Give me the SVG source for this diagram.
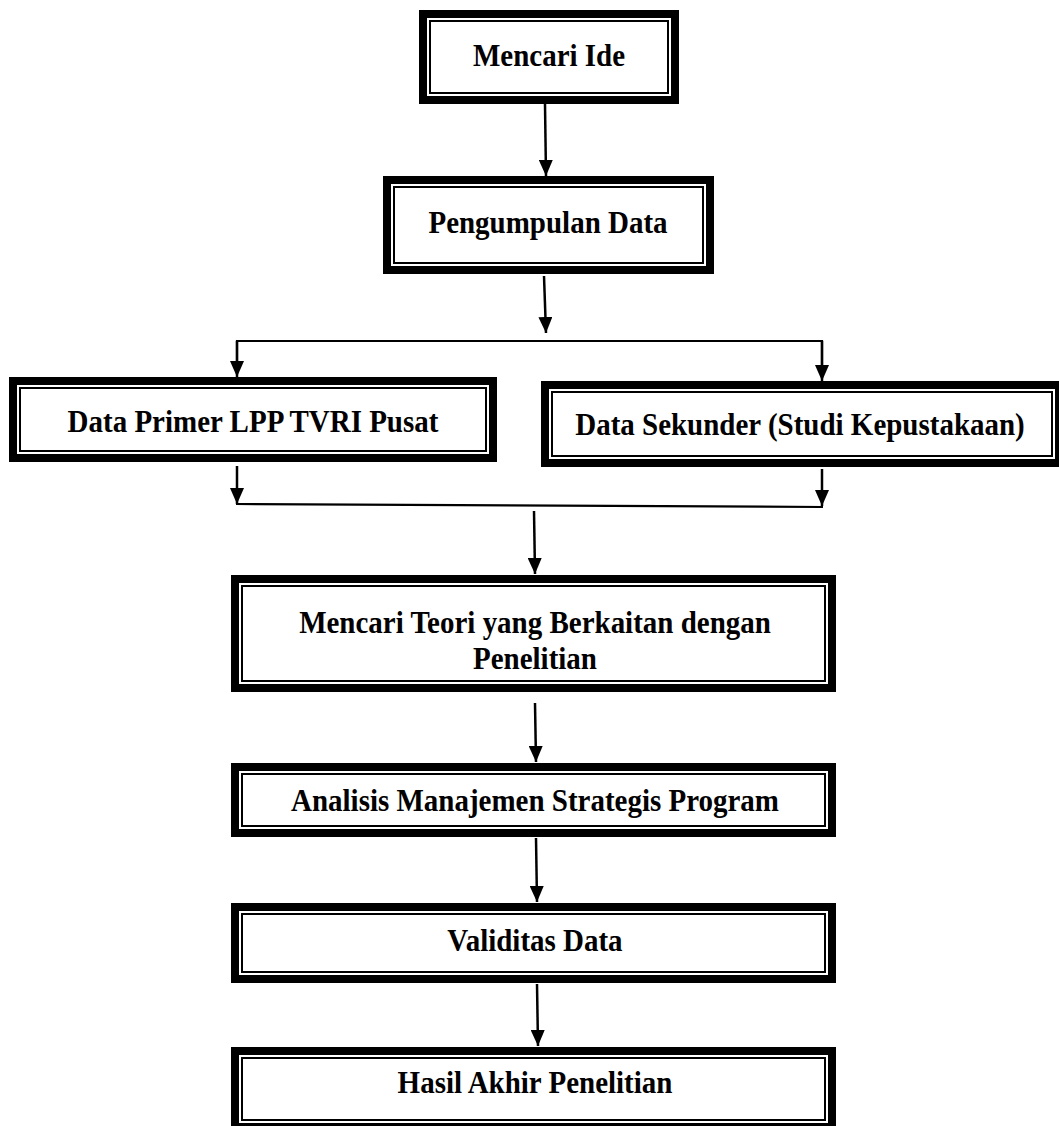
<svg xmlns="http://www.w3.org/2000/svg" width="1059" height="1126" viewBox="0 0 1059 1126">
<style>
.thick{fill:#fff;stroke:#000;stroke-width:8}
.thin{fill:none;stroke:#000;stroke-width:2}
.lbl{font-family:"Liberation Serif","Times New Roman",serif;font-weight:bold;font-size:29px;fill:#000;text-anchor:middle}
.ln{stroke:#000;stroke-width:2.2;fill:none}
.ar{stroke:#000;stroke-width:2.5;fill:none;marker-end:url(#ah)}
</style>
<defs>
<marker id="ah" markerUnits="userSpaceOnUse" markerWidth="16" markerHeight="14" refX="16" refY="7" orient="auto">
<path d="M0,0 L16,7 L0,14 z" fill="#000"/>
</marker>
</defs>
<rect width="1059" height="1126" fill="#fff"/>
<g id="n1">
<rect class="thick" x="423" y="14" width="252" height="86"/>
<rect class="thin" x="430" y="21" width="238" height="72"/>
<text class="lbl" transform="translate(549,66) scale(1,1.12)">Mencari Ide</text>
</g>
<g id="n2">
<rect class="thick" x="387" y="180" width="323" height="90"/>
<rect class="thin" x="394" y="187" width="309" height="76"/>
<text class="lbl" transform="translate(548,233) scale(1,1.12)">Pengumpulan Data</text>
</g>
<g id="n3">
<rect class="thick" x="13" y="381" width="480" height="77"/>
<rect class="thin" x="20" y="388" width="466" height="63"/>
<text class="lbl" transform="translate(253,432) scale(1,1.12)">Data Primer LPP TVRI Pusat</text>
</g>
<g id="n4">
<rect class="thick" x="545" y="385" width="514" height="78"/>
<rect class="thin" x="552" y="392" width="500" height="64"/>
<text class="lbl" transform="translate(800,435) scale(1,1.12)">Data Sekunder (Studi Kepustakaan)</text>
</g>
<g id="n5">
<rect class="thick" x="235" y="579" width="597" height="109"/>
<rect class="thin" x="242" y="586" width="583" height="95"/>
<text class="lbl" transform="translate(535,633) scale(1,1.12)">Mencari Teori yang Berkaitan dengan</text>
<text class="lbl" transform="translate(535,669) scale(1,1.12)">Penelitian</text>
</g>
<g id="n6">
<rect class="thick" x="235" y="767" width="597" height="66"/>
<rect class="thin" x="242" y="774" width="583" height="52"/>
<text class="lbl" transform="translate(535,811) scale(1,1.12)">Analisis Manajemen Strategis Program</text>
</g>
<g id="n7">
<rect class="thick" x="235" y="907" width="597" height="72"/>
<rect class="thin" x="242" y="914" width="583" height="58"/>
<text class="lbl" transform="translate(535,951) scale(1,1.12)">Validitas Data</text>
</g>
<g id="n8">
<rect class="thick" x="235" y="1051" width="597" height="76"/>
<rect class="thin" x="242" y="1058" width="583" height="62"/>
<text class="lbl" transform="translate(535,1093) scale(1,1.12)">Hasil Akhir Penelitian</text>
</g>
<g id="connectors">
<line class="ar" x1="545" y1="104" x2="546" y2="176"/>
<line class="ar" x1="544" y1="276" x2="546" y2="333"/>
<polyline class="ln" points="237,362 237,341 822,341 822,366"/>
<line class="ar" x1="237" y1="341" x2="237" y2="377"/>
<line class="ar" x1="822" y1="341" x2="822" y2="381"/>
<line class="ar" x1="237" y1="466" x2="237" y2="504"/>
<line class="ar" x1="822" y1="469" x2="822" y2="506"/>
<line class="ln" x1="236" y1="504" x2="823" y2="507"/>
<line class="ar" x1="534" y1="511" x2="535" y2="574"/>
<line class="ar" x1="535" y1="703" x2="536" y2="762"/>
<line class="ar" x1="536" y1="838" x2="537" y2="902"/>
<line class="ar" x1="537" y1="984" x2="538" y2="1046"/>
</g>
</svg>
